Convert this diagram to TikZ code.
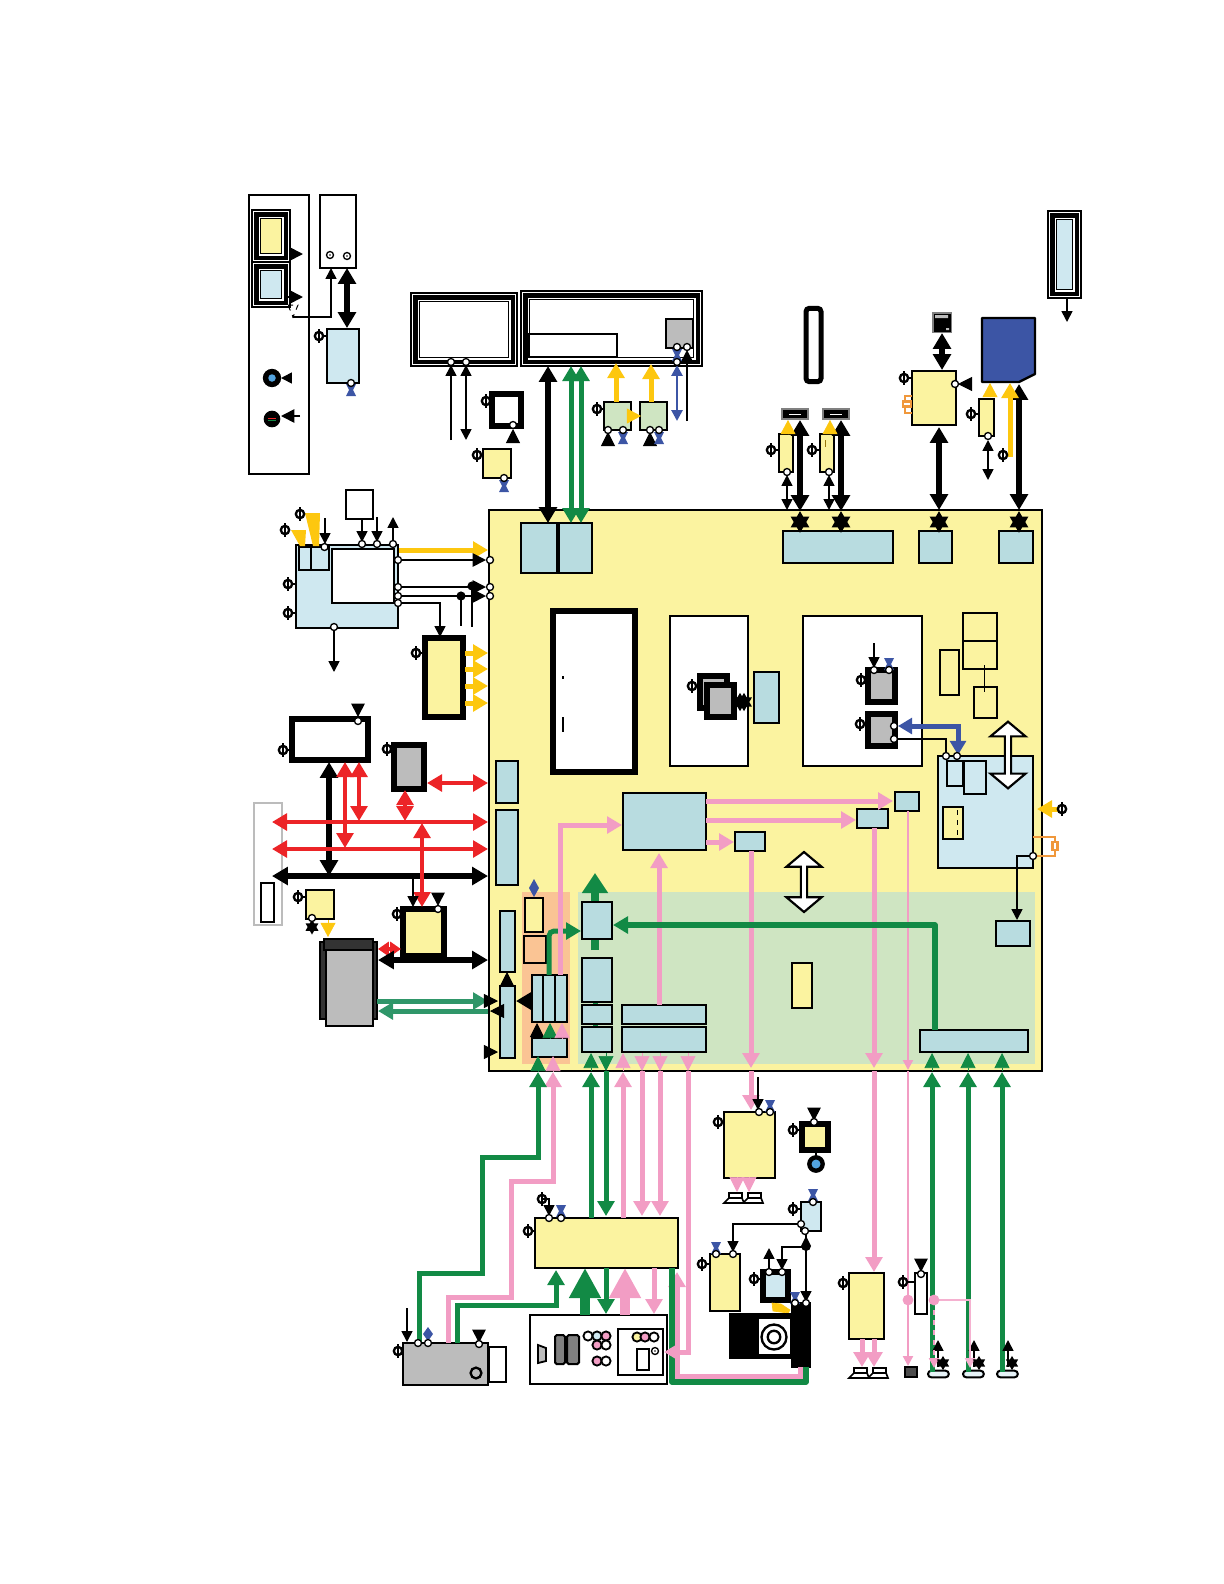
\documentclass[tikz,border=0pt]{standalone}
\usepackage{xcolor}
\usetikzlibrary{arrows.meta,shapes.geometric,shapes.arrows}
\definecolor{boardY}{RGB}{251,243,160}
\definecolor{blockB}{RGB}{184,220,224}
\definecolor{paleB}{RGB}{207,232,240}
\definecolor{paleG}{RGB}{207,229,194}
\definecolor{zoneO}{RGB}{250,196,148}
\definecolor{chipG}{RGB}{188,188,188}
\definecolor{busG}{RGB}{18,138,69}
\definecolor{busT}{RGB}{47,150,105}
\definecolor{busP}{RGB}{242,157,196}
\definecolor{busR}{RGB}{236,36,39}
\definecolor{busY}{RGB}{253,199,15}
\definecolor{busB}{RGB}{60,85,165}
\definecolor{xtalO}{RGB}{240,152,60}
\tikzset{
  blockbase/.style={rectangle,inner sep=0pt,outer sep=0pt,draw=black,line width=1.1pt},
  ybox/.style={blockbase,fill=boardY},
  bbox/.style={blockbase,fill=blockB},
  lbox/.style={blockbase,fill=paleB},
  gbox/.style={blockbase,fill=paleG},
  wbox/.style={blockbase,fill=white},
  grbox/.style={blockbase,fill=chipG},
  kbox/.style={blockbase,fill=black},
  heavy/.style={line width=3.4pt},
  port/.style={circle,draw=black,fill=white,line width=0.8pt,minimum size=4.2pt,inner sep=0pt},
  dotnode/.style={circle,fill=#1,minimum size=6.5pt,inner sep=0pt},
  hexa/.style={star,star points=6,star point ratio=1.73,fill=black,inner sep=0pt,minimum size=#1},
  bus/.style={line width=3pt,>={Triangle[length=9pt,width=10pt]}},
  kbb/.style={bus,line width=3.4pt,black,<->,>={Triangle[length=9.5pt,width=10.5pt]}},
  kto/.style={bus,line width=3.4pt,black,->},
  rbb/.style={bus,line width=2.7pt,busR,<->},
  rsh/.style={line width=2.4pt,busR,<->,>={Triangle[length=6.5pt,width=8.5pt]}},
  gbb/.style={bus,busG,<->},
  gto/.style={bus,busG,->},
  gline/.style={line width=3.2pt,busG,line join=round},
  gbig/.style={line width=5pt,busG,->,>={Triangle[length=12pt,width=15pt]}},
  gfat/.style={line width=6pt,busG,->,>={Triangle[length=18pt,width=18pt]}},
  pfat/.style={line width=6pt,busP,->,>={Triangle[length=18pt,width=18pt]}},
  pto/.style={bus,busP,->},
  tto/.style={bus,busT,->},
  yto/.style={bus,busY,->},
  yhd/.style={line width=0.4pt,busY,->,>={Triangle[length=8.5pt,width=9pt]}},
  khd/.style={line width=0.4pt,black,->,>={Triangle[length=8.5pt,width=8.5pt]}},
  phd/.style={line width=0.4pt,busP,->,>={Triangle[length=9pt,width=9pt]}},
  ghd/.style={line width=0.4pt,busG,->,>={Triangle[length=9pt,width=9pt]}},
  wire/.style={line width=1pt,>={Triangle[length=6.5pt,width=6.5pt]}},
  wto/.style={wire,->},
  wbb/.style={wire,<->},
  hto/.style={line width=1pt,->,>={Triangle[length=8pt,width=8pt]}},
  blt/.style={line width=1.6pt,busB,<->,>={Triangle[length=6.5pt,width=6.5pt]}},
  pth/.style={line width=1.3pt,busP,->,>={Triangle[length=6pt,width=6pt]}},
  bigarrow/.style={double arrow,draw=black,fill=white,line width=1.3pt,rotate=90,inner sep=0pt,
    minimum width=21pt,double arrow head extend=3pt,double arrow tip angle=100},
}
% block from its two corners, in reference pixels
\newcommand{\blk}[6]{%
  \pgfmathsetmacro{\bw}{(#5-(#3))*0.6}\pgfmathsetmacro{\bh}{(#6-(#4))*0.6}%
  \node[#2,minimum width=\bw pt,minimum height=\bh pt] (#1) at ({(#3+#5)/2},{(#4+#6)/2}) {};}
% framed screen, outer corners
\newcommand{\screen}[6]{%
  \blk{#1o}{wbox}{#2}{#3}{#4}{#5}%
  \blk{#1m}{kbox}{#2+2.5}{#3+2.5}{#4-2.5}{#5-2.5}%
  \blk{#1w}{wbox,draw=none}{#2+6.5}{#3+6.5}{#4-6.5}{#5-6.5}%
  \blk{#1}{#6}{#2+8.5}{#3+8.5}{#4-8.5}{#5-8.5}}
\begin{document}
\begin{tikzpicture}[x=0.6pt,y=-0.6pt]
  \useasboundingbox (0,0) rectangle (1224,1584);
  % board and its zones
  \blk{board}{ybox,line width=1.4pt}{489}{510}{1042}{1071}
  \blk{zoneA}{blockbase,draw=none,fill=zoneO}{522}{892}{570}{1064}
  \blk{zoneB}{blockbase,draw=none,fill=paleG}{578}{892}{1035}{1064}
  \draw[gbig] (595,950) -- (595,873);
  \draw[line width=3pt,busG] (595,1000) -- (595,1040);
  % blocks on the board
  \blk{hdA}{bbox}{521}{523}{557}{573}
  \blk{hdB}{bbox}{559}{523}{592}{573}
  \blk{usbC}{bbox}{783}{531}{893}{563}
  \blk{lanC}{bbox}{919}{531}{952}{563}
  \blk{sdC}{bbox}{999}{531}{1033}{563}
  \blk{core}{wbox,heavy}{553}{611}{635}{772}
  \blk{gfx}{wbox}{670}{616}{748}{766}
  \blk{ddr}{wbox}{803}{616}{922}{766}
  \blk{gfxIf}{bbox}{754}{672}{779}{723}
  \blk{romA}{ybox}{963}{613}{997}{641}
  \blk{romB}{ybox}{963}{641}{997}{669}
  \blk{romC}{ybox}{940}{650}{959}{695}
  \blk{romD}{ybox}{974}{687}{997}{718}
  \blk{audio}{lbox}{938}{756}{1033}{868}
  \blk{audA}{lbox}{947}{761}{963}{786}
  \blk{audB}{lbox}{964}{761}{986}{794}
  \blk{audC}{ybox}{943}{807}{963}{839}
  \blk{isp}{bbox}{623}{793}{706}{850}
  \blk{ispA}{bbox}{735}{832}{765}{851}
  \blk{ispB}{bbox}{857}{809}{888}{828}
  \blk{ispC}{bbox}{895}{792}{919}{811}
  \blk{sata}{bbox}{496}{761}{518}{803}
  \blk{pcie}{bbox}{496}{810}{518}{885}
  \blk{portA}{bbox}{500}{911}{515}{972}
  \blk{portB}{bbox}{500}{986}{515}{1058}
  \blk{fuseY}{ybox}{525}{898}{543}{932}
  \blk{fuseO}{blockbase,fill=zoneO}{524}{936}{546}{963}
  \blk{triple}{bbox}{532}{975}{567}{1022}
  \blk{tripleB}{bbox}{543}{975}{555}{1022}
  \blk{lowIn}{bbox}{532}{1038}{567}{1057}
  \blk{colA}{bbox}{582}{902}{612}{939}
  \blk{colB}{bbox}{582}{958}{612}{1002}
  \blk{colC}{bbox}{582}{1005}{612}{1024}
  \blk{colD}{bbox}{582}{1027}{612}{1052}
  \blk{colE}{bbox}{622}{1005}{706}{1024}
  \blk{colF}{bbox}{622}{1027}{706}{1052}
  \blk{midY}{ybox}{792}{963}{812}{1008}
  \blk{rgtA}{bbox}{996}{921}{1030}{946}
  \blk{rgtB}{bbox}{920}{1030}{1028}{1052}
  \blk{gfxB}{grbox,heavy}{700}{676}{727}{708}
  \blk{gfxF}{grbox,heavy}{707}{685}{734}{717}
  \blk{ddrA}{grbox,heavy}{868}{670}{895}{702}
  \blk{ddrB}{grbox,heavy}{868}{714}{895}{746}
  \node[bigarrow,minimum height=40pt] (flowA) at (1008,755) {};
  \node[bigarrow,minimum height=36pt] (flowB) at (804,882) {};
  % top left, screens
  \blk{frameL}{wbox}{249}{195}{309}{474}
  \blk{frameC}{wbox}{320}{195}{356}{268}
  \screen{monA}{252}{210}{290}{262}{ybox}
  \screen{monB}{252}{262}{290}{307}{lbox}
  \blk{sensor}{lbox}{327}{329}{359}{383}
  \screen{panelA}{411}{293}{517}{366}{wbox}
  \screen{panelB}{521}{291}{702}{366}{wbox}
  \blk{panelC}{wbox}{529}{334}{617}{357}
  \blk{panelD}{grbox}{666}{319}{693}{348}
  \blk{backA}{gbox}{604}{402}{631}{430}
  \blk{backB}{gbox}{640}{402}{667}{430}
  \blk{camSq}{wbox,heavy}{492}{394}{521}{426}
  \blk{camY}{ybox}{483}{449}{511}{478}
  \node[circle,fill=black,minimum size=11pt,inner sep=0pt] (ledA) at (272,378) {};
  \node[circle,fill=cyan!70!blue!70,minimum size=4.5pt,inner sep=0pt] (ledAc) at (ledA) {};
  \node[circle,fill=black,minimum size=10pt,inner sep=0pt] (ledB) at (272,419) {};
  \fill[busR] (268,417.5) rectangle (276,419);
  \fill[busG] (268,419.5) rectangle (276,421);
  % top right
  \node[draw=black,fill=white,line width=3pt,rounded corners=2pt,inner sep=0pt,minimum width=9pt,minimum height=44pt] (stick) at (813.5,345) {};
  \blk{usbA}{kbox,draw=gray}{782}{409}{808}{419}
  \blk{usbB}{kbox,draw=gray}{823}{409}{849}{419}
  \draw[white,line width=0.5pt] (usbA.west) ++(7,0) -- ++(12,0);
  \draw[white,line width=0.5pt] (usbB.west) ++(7,0) -- ++(12,0);
  \blk{usbPa}{ybox}{779}{434}{793}{472}
  \blk{usbPb}{ybox}{820}{434}{834}{472}
  \blk{phy}{ybox}{912}{371}{956}{425}
  \blk{rj}{kbox,draw=gray,line width=1.2pt}{933}{313}{951}{332}
  \draw[fill=black,draw=black,line width=0.6pt] (934,314) rectangle (950,331);
  \fill[chipG] (935,315) rectangle (948,318) (946,328) rectangle (949,330);
  \draw[line width=1.4pt,line join=round,fill=busB] (982,318) -- (1035,318) -- (1035,374) -- (1019,382) -- (982,382) -- cycle;
  \blk{sdPw}{ybox}{979}{399}{994}{436}
  \screen{dockR}{1048}{211}{1081}{298}{lbox}
  % left column
  \blk{pmu}{lbox}{296}{545}{398}{628}
  \blk{pmuM}{wbox}{332}{549}{394}{603}
  \blk{pmuA}{lbox}{299}{547}{311}{570}
  \blk{pmuB}{lbox}{311}{547}{329}{570}
  \blk{pmuC}{wbox}{346}{490}{373}{519}
  \blk{pwrY}{ybox,heavy}{425}{638}{463}{717}
  \blk{flash}{wbox,heavy}{292}{719}{368}{760}
  \blk{ramG}{grbox,heavy}{394}{745}{424}{789}
  \blk{slot}{wbox,draw=chipG,line width=1.3pt}{254}{803}{282}{925}
  \blk{slotIn}{wbox}{261}{883}{274}{922}
  \blk{swY}{ybox}{306}{890}{334}{919}
  \blk{cardY}{ybox,heavy}{403}{909}{444}{956}
  \blk{drvL}{blockbase,fill=black!80}{320}{942}{377}{1019}
  \blk{drvB}{grbox}{326}{950}{373}{1026}
  \blk{drvT}{blockbase,fill=black!80}{324}{939}{373}{950}
  % lower row
  \blk{hdmiY}{ybox}{535}{1218}{678}{1268}
  \blk{cam}{grbox,line width=1.5pt}{403}{1343}{488}{1385}
  \blk{camW}{wbox}{489}{1347}{506}{1382}
  \node[circle,draw=black,line width=1.4pt,inner sep=0pt,minimum size=6.5pt] (camLens) at (476,1373) {};
  \blk{jacks}{wbox}{530}{1315}{667}{1384}
  \blk{jacksR}{wbox}{618}{1329}{663}{1375}
  \blk{jackW}{wbox}{637}{1349}{649}{1370}
  \draw[fill=chipG,line width=1.1pt] (538,1345) -- (546,1348) -- (546,1361) -- (538,1363) -- cycle;
  \blk{jackG1}{blockbase,fill=black!50,line width=1.2pt,rounded corners=1pt}{555}{1335}{565}{1364}
  \blk{jackG2}{blockbase,fill=black!50,line width=1.2pt,rounded corners=1pt}{567}{1335}{579}{1364}
  \foreach \nm/\x/\y/\col in {ja/588/1336/white,jb/597/1336/paleB,jc/606/1336/busP,jd/597/1345/busP,je/606/1345/white,jf/597/1361/busP,jg/606/1361/white,jh/637/1337/boardY,ji/645/1337/busP,jj/654/1337/white}
    \node[circle,draw=black,fill=\col,line width=1.1pt,inner sep=0pt,minimum size=5.5pt] (\nm) at (\x,\y) {};
  \blk{ampA}{ybox}{724}{1112}{775}{1178}
  \blk{ledDrv}{ybox,heavy}{802}{1124}{828}{1150}
  \node[circle,draw=black,line width=2.6pt,fill=cyan!70!blue!70,inner sep=0pt,minimum size=8pt] (ledC) at (816,1164) {};
  \blk{ctl}{lbox}{801}{1202}{821}{1231}
  \blk{hpY}{ybox}{710}{1254}{740}{1311}
  \blk{optic}{lbox,heavy}{763}{1272}{788}{1300}
  \draw[busY,fill=busY] (772,1303) -- (781,1304) -- (790,1310) -- (788,1313) -- (773,1311) -- cycle;
  \blk{dvdA}{kbox}{730}{1314}{792}{1358}
  \blk{dvdB}{kbox}{792}{1303}{810}{1367}
  \blk{dvdW}{blockbase,fill=white,draw=none}{759}{1319}{790}{1354}
  \node[circle,draw=black,line width=1.4pt,inner sep=0pt,minimum size=15pt] (dvdO) at (774,1337) {};
  \node[circle,draw=black,line width=1.4pt,inner sep=0pt,minimum size=7.5pt] (dvdI) at (774,1337) {};
  \blk{ampB}{ybox}{849}{1273}{884}{1339}
  \blk{micW}{wbox}{915}{1273}{927}{1314}
  \blk{optOut}{kbox,draw=black,fill=black!70,line width=1.2pt}{905}{1367}{917}{1377}
  \foreach \nm/\x in {jkA/927,jkB/962,jkC/996}
    \node[draw=black,fill=paleB!50,line width=1.2pt,rounded corners=2pt,inner sep=0pt,minimum width=12.5pt,minimum height=4pt,anchor=west] (\nm) at (\x,1374) {};
  \foreach \x/\y in {724/1193,743/1193,849/1368,868/1368}{
    \draw[fill=white,line width=1pt] (\x+5,\y) rectangle (\x+18,\y+5);
    \draw[fill=white,line width=1pt] (\x+5,\y+5) -- (\x+18,\y+5) -- (\x+20,\y+10) -- (\x,\y+10) -- cycle;
  }
  % straight connectors
  \foreach \nm/\sty/\xa/\ya/\xb/\yb in {
      monA/hto/290/254/303/254, monB/hto/288/297/303/297, conC/kbb/347/268/347/328,
      ledA/wto/292/378/281/378, ledB/hto/300/416/281/416,
      pnA/wto/451/440/451/365, pnB/wbb/466/365/466/440,
      dp/kbb/548/366/548/523, hsA/gbb/571/366/571/523, hsB/gbb/581/366/581/523,
      blA/yto/616/402/616/363, blB/yto/651/402/651/364, blC/yhd/631/416/641/416,
      tchA/blt/677/365/677/421, tchB/wto/687/421/687/350,
      usbA/kbb/800/420/800/511, usbB/kbb/841/420/841/511, usbC/wbb/787/475/787/510, usbD/wbb/829/475/829/510,
      usbE/yhd/788/434/788/420, usbF/yhd/830/434/830/420,
      eth/kbb/942/333/942/370, lan/kbb/939/427/939/510, lanI/khd/968/384/958/384,
      sdA/kbb/1019/384/1019/510, sdB/yto/1010/457/1010/383, sdC/wbb/988/440/988/480, sdD/yhd/990/397/990/383,
      dockA/wto/1067/298/1067/322,
      pmA/wto/325/518/325/544, pmB/wto/362/519/362/542, pmC/wto/377/517/377/542, pmD/wto/393/542/393/517,
      pmE/yto/399/550/488/550, pmF/hto/398/560/486/560, pmG/hto/398/587/486/587, pmH/hto/398/596/486/596,
      pmI/wto/334/627/334/672, pmJ/wire/472/586/472/627, pmK/wire/461/596/461/626,
      pyA/yto/465/653/488/653, pyB/yto/465/669/488/669, pyC/yto/465/686/488/686, pyD/yto/465/703/488/703,
      flA/hto/358/705/358/717,
      rdA/rbb/427/783/488/783, rdB/rbb/405/790/405/821, flB/kbb/329/762/329/876,
      rdC/rbb/345/762/345/848, rdD/rbb/359/762/359/821, rdE/rbb/272/822/488/822, rdF/rbb/272/849/488/849,
      kbA/kbb/272/876/488/876, rdG/rbb/422/823/422/907, kbB/wto/413/877/413/907, kbC/hto/438/894/438/906,
      swA/yhd/328/920/328/937, rdH/rsh/378/949/401/949, kbD/kbb/378/960/488/960,
      tlA/tto/377/1001/488/1001, tlB/tto/488/1011/378/1011,
      trA/khd/485/1001/498/1001, trB/khd/499/1011/490/1011, trC/khd/485/1052/498/1052, trD/khd/507/986/507/972,
      trE/kto/532/1001/516/1001, trF/khd/537/1038/537/1023, trG/ghd/550/1038/550/1023, trH/phd/562/1038/562/1023,
      ipA/pto/659/1005/659/853, ipB/pto/706/801/893/801, ipC/pto/706/820/856/820, ipD/pto/706/842/734/842,
      ipE/pto/751/851/751/1068, ipF/pto/751/1071/751/1110, ipG/pto/874/828/874/1068, ipH/pto/874/1071/874/1272,
      ipI/pth/908/811/908/1070, ipJ/pth/908/1071/908/1366,
      inA/ghd/538/1071/538/1056, inB/phd/553/1071/553/1056,
      grA/gto/591/1218/591/1072, grB/ghd/591/1071/591/1053, grC/ghd/606/1053/606/1071, grD/gto/606/1071/606/1216,
      piA/pto/623/1218/623/1072, piB/phd/623/1071/623/1053, piC/phd/642/1053/642/1071, piD/pto/642/1071/642/1216,
      piE/phd/660/1053/660/1071, piF/pto/660/1071/660/1216, piG/phd/688/1053/688/1071,
      gpA/gto/932/1372/932/1072, gpB/ghd/932/1071/932/1053, gpC/gto/968/1372/968/1072, gpD/ghd/968/1071/968/1053,
      gpE/gto/1002/1372/1002/1072, gpF/ghd/1002/1071/1002/1053,
      hdA/gfat/585/1315/585/1268, hdB/gto/606/1268/606/1314, hdC/pfat/625/1315/625/1268, hdD/pto/654/1268/654/1314,
      cmA/wto/407/1308/407/1342, cmB/hto/479/1330/479/1343, amA/wto/758/1077/758/1110, amB/hto/814/1110/814/1121,
      amC/phd/737/1178/737/1192, amD/phd/749/1178/749/1192, ldA/wire/816/1152/816/1158,
      opA/wto/769/1270/769/1248, dvA/wto/806/1231/806/1302,
      abA/pto/862/1339/862/1367, abB/pto/874/1339/874/1367, miA/hto/921/1262/921/1272,
      jkA/wto/938/1367/938/1340, jkB/wto/974/1367/974/1340, jkC/wto/1008/1367/1008/1340,
      ddA/wto/874/643/874/668, auA/yto/1058/809/1037/809,
      tpA/khd/513/437/513/429, tpB/khd/608/443/608/432, tpC/khd/650/443/650/432}{
    \coordinate (\nm a) at (\xa,\ya);
    \coordinate (\nm b) at (\xb,\yb);
    \draw[\sty] (\nm a) -- (\nm b);
  }
  % connectors with corners
  \foreach \nm/\x/\y in {mdA/293/305,mdB/293/317,mdC/331/317,mdD/331/268,pmL/398/603,pmM/440/603,pmN/440/637,
      gnA/935/1030,gnB/935/925,gnC/613/925,gnD/549/975,gnE/549/931,gnF/581/931,
      pkA/560/975,pkB/560/825,pkC/622/825,
      pkD/448/1343,pkE/448/1297,pkF/511/1297,pkG/511/1181,pkH/553/1181,pkI/553/1072,
      gkA/419/1343,gkB/419/1273,gkC/482/1273,gkD/482/1157,gkE/538/1157,gkF/538/1072,
      gkG/457/1343,gkH/457/1305,gkI/556/1305,gkJ/556/1270,
      pwA/542/1199,pwB/549/1199,pwC/549/1216,
      ctA/801/1224,ctB/733/1224,ctC/733/1252,ctD/806/1247,ctE/782/1247,ctF/782/1270,
      gdA/672/1268,gdB/672/1382,gdC/806/1382,gdD/806/1367,
      pdA/800/1367,pdB/800/1376,pdC/677/1376,pdD/677/1272,
      pjA/688/1071,pjB/688/1352,pjC/664/1352,
      pmP/934/1300,pmQ/970/1300,pmR/970/1368,pmS/934/1368,
      blA/898/726,blB/958/726,blC/958/755,tnA/894/739,tnB/946/739,tnC/946/755,
      auA/1033/856,auB/1017/856,auC/1017/920}
    \coordinate (\nm) at (\x,\y);
  \draw[wto,line cap=round] (mdB) -- (mdC) -- (mdD);
  \draw[wto] (pmL) -- (pmM) -- (pmN);
  \draw[gto,line width=3.2pt,line join=round] (gnA) -- (gnB) -- (gnC);
  \draw[gto,rounded corners=3pt] (gnD) -- (gnE) -- (gnF);
  \draw[pto] (pkA) -- (pkB) -- (pkC);
  \draw[pto] (pkD) -- (pkE) -- (pkF) -- (pkG) -- (pkH) -- (pkI);
  \draw[gto] (gkA) -- (gkB) -- (gkC) -- (gkD) -- (gkE) -- (gkF);
  \draw[gto] (gkG) -- (gkH) -- (gkI) -- (gkJ);
  \draw[wto] (pwA) -- (pwB) -- (pwC);
  \draw[wto] (ctA) -- (ctB) -- (ctC);
  \draw[wto] (ctD) -- (ctE) -- (ctF);
  \draw[pto] (pdA) -- (pdB) -- (pdC) -- (pdD);
  \draw[gline] (gdA) -- (gdB) -- (gdC) -- (gdD);
  \draw[pto] (pjA) -- (pjB) -- (pjC);
  \draw[pth,busP!80] (pmP) -- (pmQ) -- (pmR);
  \draw[pth,dashed] (pmP) -- (pmS);
  \draw[blt,line width=3pt,>={Triangle[length=8.5pt,width=9.5pt]}] (blA) -- (blB) -- (blC);
  \draw[wire] (tnA) -- (tnB) -- (tnC);
  \draw[wto] (auA) -- (auB) -- (auC);
  \draw[wire] (romD.north) ++(-1,-22) -- ++(0,27);
  % dotted triangle under the lower screen
  \draw[dashed,line width=0.6pt] (288,305) -- (298,305) -- (mdB) -- cycle;
  % filled funnels on the power block
  \fill[busY] (291,530) -- (306,530) -- (305,546) -- (300,546) -- cycle;
  \fill[busY] (305,513) -- (320,513) -- (319,546) -- (313,546) -- cycle;
  % stars
  \foreach \nm/\x/\y/\r in {stA/800/522/13pt,stB/841/522/13pt,stC/939/522/13pt,stD/1019/522/13pt,stE/744/702/11pt,stF/740/702/11pt,stG/312/927/9pt,stH/943/1363/8.5pt,stI/979/1363/8.5pt,stJ/1012/1363/8.5pt}
    \node[hexa=\r] (\nm) at (\x,\y) {};
  % blue hourglass marks
  \foreach \x/\y in {351/384,677/349,623/432,659/432,504/480,889/658,770/1100,813/1189,716/1242,795/1292,561/1205}
    \fill[busB] (\x-5,\y) -- (\x+5,\y) -- (\x+2,\y+6) -- (\x+5,\y+12) -- (\x-5,\y+12) -- (\x-2,\y+6) -- cycle;
  % blue diamonds
  \foreach \x/\y/\h in {534/888/9,428/1334/7}
    \fill[busB] (\x,\y-\h) -- (\x+5,\y) -- (\x,\y+\h) -- (\x-5,\y) -- cycle;
  % drop on the wire and dots
  \fill (806,1236) -- (811,1246) arc (0:180:5) -- cycle;
  \node[dotnode=black,minimum size=5.5pt] (dotA) at (472,586) {};
  \node[dotnode=black,minimum size=5.5pt] (dotB) at (461,596) {};
  \node[dotnode=busP] (dotC) at (908,1300) {};
  \node[dotnode=busP] (dotD) at (934,1300) {};
  % crystals
  \draw[xtalO,line width=1.6pt] (912,396) -- (905,396) -- (905,413) -- (912,413);
  \node[draw=xtalO,line width=1.3pt,fill=white,inner sep=0pt,minimum width=5pt,minimum height=3pt] (xtalA) at (907,404) {};
  \draw[xtalO,line width=1.6pt] (1033,837) -- (1055,837) -- (1055,856) -- (1034,856);
  \node[draw=xtalO,line width=1.3pt,fill=white,inner sep=0pt,minimum width=3pt,minimum height=5pt] (xtalB) at (1055,846) {};
  % marks in the core and in the audio block
  \fill (562,676) rectangle (564,679);
  \fill (562,717) rectangle (563.5,732);
  \draw[line width=0.4pt,dashed] (957,810) -- (957,835);
  \draw[line width=0.4pt,busY!60!black] (825,440) -- (825,447);
  % supply symbols
  \foreach \x/\y/\l [count=\i] in {319/336/8,486/401/5,477/455/6,597/409/7,771/450/8,812/450/8,904/378/8,971/414/8,1003/455/0,
      300/514/0,285/530/0,288/584/8,288/613/8,416/653/8,283/750/8,387/749/7,298/897/8,397/914/6,
      692/686/8,861/680/7,860/724/8,1062/809/0,528/1231/7,542/1199/0,398/1351/5,702/1264/8,718/1122/6,793/1130/6,
      793/1209/8,754/1279/6,843/1283/6,903/1282/12}{
    \node[circle,draw=black,line width=1.4pt,inner sep=0pt,minimum size=5pt] (sup\i) at (\x,\y) {};
    \draw[line width=1.4pt] (sup\i.center) ++(0,-7) -- ++(0,14);
    \draw[line width=1.1pt] (sup\i) -- ++(\l,0);
  }
  % ports
  \foreach \nm/\x/\y in {ptA/330/255,ptB/347/256,ptC/351/383,ptD/451/362,ptE/466/362,ptF/677/347,ptG/687/347,ptH/677/362,
      ptI/608/430,ptJ/623/430,ptK/650/430,ptL/659/430,ptM/513/425,ptN/504/478,ptO/787/472,ptP/829/472,ptQ/955/384,ptR/988/436,
      ptS/324.5/547,ptT/362/544,ptU/377/544,ptV/393/544,ptW/398/560,ptX/398/587,ptY/398/596,ptZ/398/603,
      pqA/490/560,pqB/490/587,pqC/490/596,pqD/334/627,pqE/358/721,pqF/438/909,pqG/312/918,
      pqH/874/670,pqI/889/670,pqJ/894/726,pqK/894/739,pqL/946/756,pqM/957/756,pqN/1033/856,
      pqO/418/1343,pqP/428/1343,pqQ/479/1344,pqR/549/1218,pqS/561/1218,pqT/759/1112,pqU/770/1112,pqV/814/1122,
      pqW/813/1202,pqX/801/1224,pqY/805/1231,pqZ/716/1254,prA/733/1254,prB/769/1272,prC/782/1272,prD/806/1303,prE/795/1303,
      prF/921/1274,prG/655/1351}
    \node[port] (\nm) at (\x,\y) {};
  \fill (ptA) circle (0.9) (ptB) circle (0.9) (prG) circle (0.9);
\end{tikzpicture}
\end{document}
